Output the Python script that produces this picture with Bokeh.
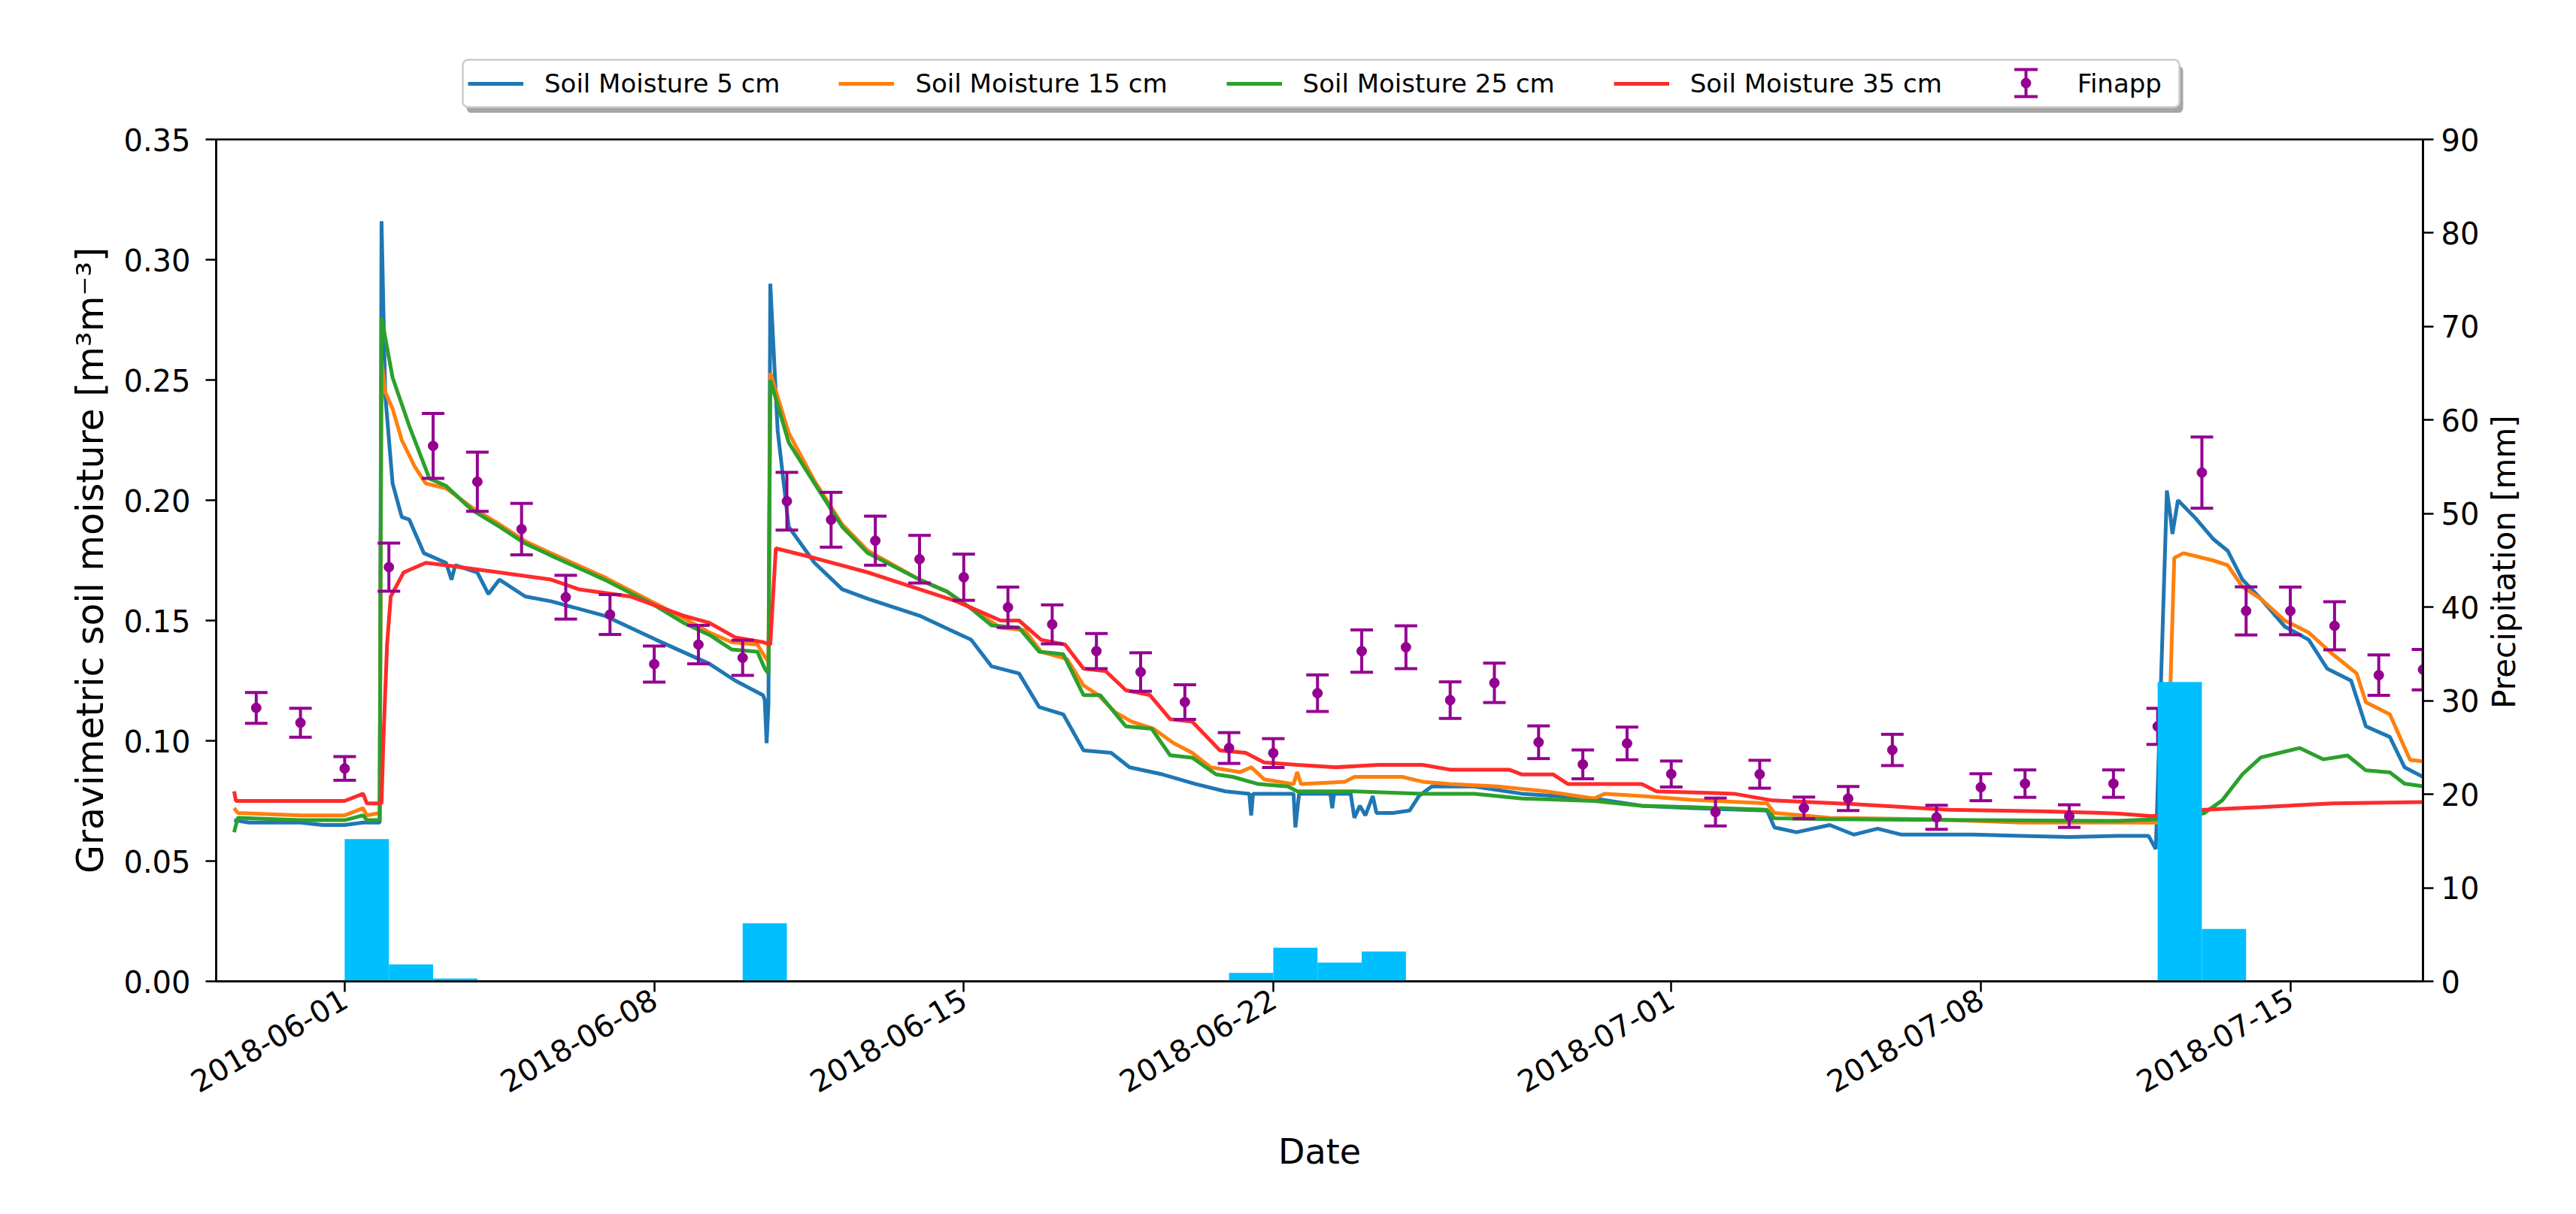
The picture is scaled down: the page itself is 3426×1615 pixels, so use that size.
import numpy as np
import pandas as pd
from math import pi
from bokeh.plotting import figure
from bokeh.layouts import column, row
from bokeh.models import (ColumnDataSource, Range1d, LinearAxis, FixedTicker,
                          DatetimeTickFormatter, PrintfTickFormatter, Legend,
                          LegendItem, Label)
from bokeh.embed import file_html
from bokeh.resources import INLINE

# ---------------- data ----------------
x_start = "2018-05-29 02:15"
x_end = "2018-07-18 00:00"

x_tick_dates = ["2018-06-01", "2018-06-08", "2018-06-15", "2018-06-22",
                "2018-07-01", "2018-07-08", "2018-07-15"]
y_ticks = [0.0, 0.05, 0.10, 0.15, 0.20, 0.25, 0.30, 0.35]
precip_ticks = [0, 10, 20, 30, 40, 50, 60, 70, 80, 90]

t5 = ["2018-05-29 12:00", "2018-05-29 20:00", "2018-05-30 12:00", "2018-05-31 00:00",
      "2018-05-31 12:00", "2018-06-01 00:00", "2018-06-01 10:00", "2018-06-01 19:00",
      "2018-06-01 20:00", "2018-06-01 22:00", "2018-06-02 02:00", "2018-06-02 07:00",
      "2018-06-02 11:00", "2018-06-02 19:00", "2018-06-03 07:00", "2018-06-03 10:00",
      "2018-06-03 12:00", "2018-06-04 00:00", "2018-06-04 06:00", "2018-06-04 12:00",
      "2018-06-05 02:00", "2018-06-05 16:00", "2018-06-06 21:00", "2018-06-08 01:00",
      "2018-06-09 06:00", "2018-06-09 20:00", "2018-06-10 11:00", "2018-06-10 12:00",
      "2018-06-10 13:00", "2018-06-10 14:00", "2018-06-10 15:00", "2018-06-10 19:00",
      "2018-06-11 01:00", "2018-06-11 15:00", "2018-06-12 06:00", "2018-06-12 20:00",
      "2018-06-14 00:00", "2018-06-15 04:00", "2018-06-15 15:00", "2018-06-16 06:00",
      "2018-06-16 17:00", "2018-06-17 06:00", "2018-06-17 17:00", "2018-06-18 08:00",
      "2018-06-18 18:00", "2018-06-19 12:00", "2018-06-20 06:00", "2018-06-20 22:00",
      "2018-06-21 11:00", "2018-06-21 12:00", "2018-06-21 13:00", "2018-06-22 11:00",
      "2018-06-22 12:00", "2018-06-22 14:00", "2018-06-23 07:00", "2018-06-23 08:00",
      "2018-06-23 09:00", "2018-06-23 18:00", "2018-06-23 20:00", "2018-06-23 23:00",
      "2018-06-24 02:00", "2018-06-24 06:00", "2018-06-24 08:00", "2018-06-24 17:00",
      "2018-06-25 02:00", "2018-06-25 07:00", "2018-06-25 14:00", "2018-06-26 13:00",
      "2018-06-27 15:00", "2018-06-29 06:00", "2018-06-30 08:00", "2018-07-01 11:00",
      "2018-07-03 04:00", "2018-07-03 08:00", "2018-07-03 20:00", "2018-07-04 14:00",
      "2018-07-05 03:00", "2018-07-05 16:00", "2018-07-06 05:00", "2018-07-07 20:00",
      "2018-07-08 22:00", "2018-07-10 00:00", "2018-07-11 02:00", "2018-07-11 19:00",
      "2018-07-11 23:00", "2018-07-12 05:00", "2018-07-12 07:00", "2018-07-12 08:00",
      "2018-07-12 11:00", "2018-07-12 20:00", "2018-07-13 06:00", "2018-07-13 14:00",
      "2018-07-13 22:00", "2018-07-14 08:00", "2018-07-14 21:00", "2018-07-15 10:00",
      "2018-07-15 20:00", "2018-07-16 09:00", "2018-07-16 17:00", "2018-07-17 06:00",
      "2018-07-17 14:00", "2018-07-18 00:00"]
v5 = [0.067, 0.066, 0.066, 0.066, 0.065, 0.065, 0.066, 0.066,
      0.316, 0.244, 0.207, 0.193, 0.192, 0.178, 0.174, 0.167,
      0.173, 0.170, 0.161, 0.167, 0.160, 0.158, 0.152, 0.142,
      0.132, 0.125, 0.119, 0.117, 0.099, 0.115, 0.290, 0.229,
      0.189, 0.174, 0.163, 0.159, 0.152, 0.142, 0.131, 0.128,
      0.114, 0.111, 0.096, 0.095, 0.089, 0.086, 0.082, 0.079,
      0.078, 0.069, 0.078, 0.078, 0.064, 0.078, 0.078, 0.072,
      0.078, 0.078, 0.068, 0.073, 0.069, 0.077, 0.070, 0.070,
      0.071, 0.077, 0.081, 0.081, 0.078, 0.076, 0.073, 0.072,
      0.071, 0.064, 0.062, 0.065, 0.061, 0.0635, 0.061, 0.061,
      0.0605, 0.060, 0.0605, 0.0605, 0.055, 0.204, 0.193, 0.186,
      0.200, 0.193, 0.184, 0.179, 0.167, 0.159, 0.1475, 0.142,
      0.130, 0.125, 0.106, 0.1016, 0.089, 0.085]

t15 = ["2018-05-29 12:00", "2018-05-29 14:00", "2018-05-31 00:00", "2018-06-01 00:00",
       "2018-06-01 10:00", "2018-06-01 12:00", "2018-06-01 19:00", "2018-06-01 20:00",
       "2018-06-01 22:00", "2018-06-02 02:00", "2018-06-02 07:00", "2018-06-02 14:00",
       "2018-06-02 20:00", "2018-06-03 07:00", "2018-06-03 21:00", "2018-06-04 12:00",
       "2018-06-05 02:00", "2018-06-05 16:00", "2018-06-06 21:00", "2018-06-08 01:00",
       "2018-06-08 16:00", "2018-06-09 06:00", "2018-06-09 18:00", "2018-06-10 08:00",
       "2018-06-10 12:00", "2018-06-10 14:00", "2018-06-10 15:00", "2018-06-11 01:00",
       "2018-06-11 15:00", "2018-06-12 06:00", "2018-06-12 20:00", "2018-06-14 00:00",
       "2018-06-14 15:00", "2018-06-15 04:00", "2018-06-15 20:00", "2018-06-16 09:00",
       "2018-06-16 18:00", "2018-06-17 08:00", "2018-06-17 17:00", "2018-06-18 01:00",
       "2018-06-18 10:00", "2018-06-18 19:00", "2018-06-19 07:00", "2018-06-19 18:00",
       "2018-06-20 04:00", "2018-06-20 14:00", "2018-06-21 06:00", "2018-06-21 12:00",
       "2018-06-21 19:00", "2018-06-22 11:00", "2018-06-22 13:00", "2018-06-22 15:00",
       "2018-06-23 15:00", "2018-06-23 20:00", "2018-06-24 22:00", "2018-06-25 09:00",
       "2018-06-26 00:00", "2018-06-27 02:00", "2018-06-28 04:00", "2018-06-29 06:00",
       "2018-06-29 12:00", "2018-06-30 08:00", "2018-07-01 11:00", "2018-07-03 04:00",
       "2018-07-03 08:00", "2018-07-04 14:00", "2018-07-06 18:00", "2018-07-08 22:00",
       "2018-07-12 03:00", "2018-07-12 06:00", "2018-07-12 07:00", "2018-07-12 09:00",
       "2018-07-12 14:00", "2018-07-13 06:00", "2018-07-13 14:00", "2018-07-13 22:00",
       "2018-07-14 08:00", "2018-07-14 21:00", "2018-07-15 10:00", "2018-07-15 23:00",
       "2018-07-16 12:00", "2018-07-16 17:00", "2018-07-17 06:00", "2018-07-17 17:00",
       "2018-07-18 00:00"]
v15 = [0.072, 0.070, 0.069, 0.069, 0.072, 0.069, 0.070, 0.258,
       0.245, 0.238, 0.225, 0.214, 0.207, 0.205, 0.197, 0.190,
       0.183, 0.178, 0.168, 0.157, 0.151, 0.145, 0.141, 0.140,
       0.135, 0.133, 0.253, 0.228, 0.208, 0.190, 0.179, 0.167,
       0.162, 0.155, 0.147, 0.146, 0.137, 0.134, 0.123, 0.119,
       0.112, 0.108, 0.105, 0.099, 0.095, 0.089, 0.087, 0.089,
       0.084, 0.082, 0.087, 0.082, 0.083, 0.085, 0.085, 0.083,
       0.082, 0.081, 0.079, 0.076, 0.078, 0.077, 0.0755, 0.074,
       0.070, 0.068, 0.0674, 0.066, 0.066, 0.068, 0.125, 0.176,
       0.178, 0.175, 0.173, 0.164, 0.159, 0.150, 0.145, 0.136,
       0.128, 0.116, 0.111, 0.092, 0.0915]

t25 = ["2018-05-29 12:00", "2018-05-29 14:00", "2018-05-31 00:00", "2018-06-01 00:00",
       "2018-06-01 10:00", "2018-06-01 12:00", "2018-06-01 19:00", "2018-06-01 20:00",
       "2018-06-02 02:00", "2018-06-02 11:00", "2018-06-02 22:00", "2018-06-03 07:00",
       "2018-06-03 21:00", "2018-06-04 12:00", "2018-06-05 02:00", "2018-06-05 16:00",
       "2018-06-06 21:00", "2018-06-08 01:00", "2018-06-08 16:00", "2018-06-09 06:00",
       "2018-06-09 18:00", "2018-06-10 08:00", "2018-06-10 12:00", "2018-06-10 14:00",
       "2018-06-10 15:00", "2018-06-11 01:00", "2018-06-11 15:00", "2018-06-12 06:00",
       "2018-06-12 20:00", "2018-06-14 00:00", "2018-06-14 15:00", "2018-06-15 04:00",
       "2018-06-15 15:00", "2018-06-16 06:00", "2018-06-16 17:00", "2018-06-17 06:00",
       "2018-06-17 17:00", "2018-06-18 02:00", "2018-06-18 16:00", "2018-06-19 06:00",
       "2018-06-19 16:00", "2018-06-20 04:00", "2018-06-20 17:00", "2018-06-21 02:00",
       "2018-06-21 16:00", "2018-06-22 08:00", "2018-06-22 13:00", "2018-06-23 20:00",
       "2018-06-25 09:00", "2018-06-26 13:00", "2018-06-27 15:00", "2018-06-29 06:00",
       "2018-06-30 08:00", "2018-07-01 11:00", "2018-07-03 04:00", "2018-07-03 08:00",
       "2018-07-04 14:00", "2018-07-11 02:00", "2018-07-12 00:00", "2018-07-13 01:00",
       "2018-07-13 11:00", "2018-07-13 22:00", "2018-07-14 08:00", "2018-07-15 05:00",
       "2018-07-15 18:00", "2018-07-16 07:00", "2018-07-16 17:00", "2018-07-17 06:00",
       "2018-07-17 14:00", "2018-07-18 00:00"]
v25 = [0.062, 0.068, 0.067, 0.067, 0.069, 0.067, 0.067, 0.276,
       0.251, 0.231, 0.209, 0.206, 0.196, 0.189, 0.182, 0.177,
       0.167, 0.156, 0.149, 0.144, 0.138, 0.137, 0.130, 0.128,
       0.250, 0.224, 0.207, 0.189, 0.178, 0.167, 0.162, 0.155,
       0.148, 0.147, 0.137, 0.136, 0.119, 0.119, 0.106, 0.105,
       0.094, 0.093, 0.086, 0.085, 0.082, 0.081, 0.079, 0.079,
       0.078, 0.078, 0.076, 0.075, 0.073, 0.0724, 0.0713, 0.0678,
       0.0674, 0.0667, 0.0674, 0.0698, 0.0752, 0.0861, 0.0931, 0.0970,
       0.0923, 0.0939, 0.0877, 0.0869, 0.0822, 0.0811]

t35 = ["2018-05-29 12:00", "2018-05-29 13:00", "2018-05-31 00:00", "2018-06-01 00:00",
       "2018-06-01 10:00", "2018-06-01 12:00", "2018-06-01 20:00", "2018-06-01 21:00",
       "2018-06-01 23:00", "2018-06-02 01:00", "2018-06-02 08:00", "2018-06-02 20:00",
       "2018-06-03 07:00", "2018-06-04 12:00", "2018-06-05 16:00", "2018-06-06 07:00",
       "2018-06-07 11:00", "2018-06-08 16:00", "2018-06-09 06:00", "2018-06-09 20:00",
       "2018-06-10 11:00", "2018-06-10 15:00", "2018-06-10 18:00", "2018-06-11 15:00",
       "2018-06-12 20:00", "2018-06-14 00:00", "2018-06-14 20:00", "2018-06-15 20:00",
       "2018-06-16 06:00", "2018-06-16 18:00", "2018-06-17 07:00", "2018-06-17 17:00",
       "2018-06-18 05:00", "2018-06-18 16:00", "2018-06-19 05:00", "2018-06-19 16:00",
       "2018-06-20 04:00", "2018-06-20 19:00", "2018-06-21 09:00", "2018-06-21 19:00",
       "2018-06-22 13:00", "2018-06-23 10:00", "2018-06-24 09:00", "2018-06-25 09:00",
       "2018-06-26 00:00", "2018-06-27 08:00", "2018-06-27 15:00", "2018-06-28 08:00",
       "2018-06-28 16:00", "2018-06-30 08:00", "2018-06-30 16:00", "2018-07-02 10:00",
       "2018-07-03 07:00", "2018-07-05 03:00", "2018-07-06 07:00", "2018-07-07 07:00",
       "2018-07-09 13:00", "2018-07-11 02:00", "2018-07-11 21:00", "2018-07-13 01:00",
       "2018-07-14 08:00", "2018-07-15 23:00", "2018-07-18 00:00"]
v35 = [0.079, 0.075, 0.075, 0.075, 0.078, 0.074, 0.074, 0.100,
       0.140, 0.160, 0.170, 0.174, 0.173, 0.170, 0.167, 0.163,
       0.160, 0.152, 0.149, 0.143, 0.141, 0.140, 0.180, 0.176,
       0.170, 0.163, 0.158, 0.150, 0.150, 0.142, 0.140, 0.130,
       0.129, 0.121, 0.119, 0.109, 0.108, 0.096, 0.095, 0.091,
       0.090, 0.089, 0.090, 0.090, 0.088, 0.088, 0.086, 0.086,
       0.082, 0.082, 0.079, 0.078, 0.0752, 0.0737, 0.0724, 0.0713,
       0.0706, 0.0698, 0.0687, 0.0713, 0.0724, 0.0740, 0.0745]

fin_dates = pd.date_range("2018-05-30", "2018-07-18", freq="D")
fin_vals = [0.1137, 0.1075, 0.0885, 0.1722, 0.2226, 0.2077, 0.1880, 0.1597, 0.1525, 0.1319,
            0.1400, 0.1345, 0.1996, 0.1919, 0.1832, 0.1755, 0.1680, 0.1555, 0.1484, 0.1373,
            0.1286, 0.1161, 0.0970, 0.0949, 0.1198, 0.1373, 0.1389, 0.1169, 0.1241, 0.0994,
            0.0902, 0.0989, 0.0862, 0.0704, 0.0861, 0.0721, 0.0760, 0.0962, 0.0682, 0.0807,
            0.0822, 0.0687, 0.0822, 0.1060, 0.2115, 0.1540, 0.1540, 0.1478, 0.1273, 0.1296]
fin_err = [0.0064, 0.0060, 0.0049, 0.0100, 0.0135, 0.0123, 0.0107, 0.0091, 0.0083, 0.0075,
           0.0080, 0.0073, 0.0120, 0.0114, 0.0102, 0.0099, 0.0096, 0.0084, 0.0081, 0.0073,
           0.0080, 0.0072, 0.0064, 0.0060, 0.0076, 0.0088, 0.0089, 0.0076, 0.0082, 0.0068,
           0.0060, 0.0068, 0.0054, 0.0058, 0.0058, 0.0045, 0.0050, 0.0065, 0.0050, 0.0056,
           0.0057, 0.0047, 0.0057, 0.0075, 0.0148, 0.0100, 0.0099, 0.0100, 0.0084, 0.0084]

precip_dates = ["2018-06-01", "2018-06-02", "2018-06-03", "2018-06-10", "2018-06-21",
                "2018-06-22", "2018-06-23", "2018-06-24", "2018-07-12", "2018-07-13"]
precip_mm = [15.2, 1.8, 0.3, 6.2, 0.9, 3.6, 2.0, 3.2, 32.0, 5.6]

series_labels = ["Soil Moisture 5 cm", "Soil Moisture 15 cm",
                 "Soil Moisture 25 cm", "Soil Moisture 35 cm", "Finapp"]

# ---------------- styling ----------------
FONT = "DejaVu Sans"
COLORS = ["#1f77b4", "#ff7f0e", "#2ca02c", "#ff2b2b"]
MAG = "#940090"
BAR = "#00bfff"
LW = 5
TOTAL_W = 3410
LEG_H = 150
MAIN_H = 1445
RLAB_W = 108
# legend strip layout (strip coordinates are pixels, y up)
BOX_L, BOX_R, BOX_B, BOX_T = 615, 2898, 8, 71
LEG_X, LEG_Y = 613, 10
ICON_X, ICON_Y, ICON_HALF = 2694, 40, 18

series = [(t5, v5), (t15, v15), (t25, v25), (t35, v35)]
fv = np.array(fin_vals)
fe = np.array(fin_err)
fsrc = ColumnDataSource(dict(x=fin_dates, y=fv, lo=fv - fe, hi=fv + fe))

# ---------------- main plot ----------------
p = figure(width=TOTAL_W - RLAB_W, height=MAIN_H, x_axis_type="datetime",
           x_range=Range1d(pd.Timestamp(x_start), pd.Timestamp(x_end)),
           y_range=Range1d(0, 0.35),
           output_backend="svg", toolbar_location=None,
           min_border_left=287, min_border_right=80,
           min_border_top=35, min_border_bottom=290)
p.extra_y_ranges = {"precip": Range1d(0, 90)}
p.grid.visible = False
p.background_fill_color = "white"
p.border_fill_color = "white"
p.outline_line_color = "black"
p.outline_line_width = 2.5
p.outline_line_alpha = 1.0

for (t, v), c in zip(series, COLORS):
    p.line(pd.to_datetime(t), v, line_color=c, line_width=LW)

p.segment(x0="x", y0="lo", x1="x", y1="hi", source=fsrc, line_color=MAG, line_width=4)
p.scatter("x", "lo", source=fsrc, marker="dash", size=30, line_color=MAG, line_width=4)
p.scatter("x", "hi", source=fsrc, marker="dash", size=30, line_color=MAG, line_width=4)
p.scatter("x", "y", source=fsrc, marker="circle", size=13, fill_color=MAG, line_color=MAG)

pd_left = pd.to_datetime(precip_dates)
p.quad(left=pd_left, right=pd_left + pd.Timedelta(days=1), bottom=0, top=precip_mm,
       y_range_name="precip", fill_color=BAR, line_color=None)

def style(ax):
    ax.axis_line_width = 2.5
    ax.axis_line_color = "black"
    ax.major_tick_line_width = 2.5
    ax.major_tick_line_color = "black"
    ax.major_tick_out = 14
    ax.major_tick_in = 0
    ax.minor_tick_line_color = None
    ax.major_label_text_font = FONT
    ax.major_label_text_font_size = "40px"
    ax.major_label_text_color = "black"
    ax.axis_label_text_font = FONT
    ax.axis_label_text_font_size = "46px"
    ax.axis_label_text_font_style = "normal"
    ax.axis_label_text_color = "black"

xa = p.xaxis[0]
style(xa)
xa.ticker = FixedTicker(ticks=[pd.Timestamp(d).value // 10**6 for d in x_tick_dates])
fmt = "%Y-%m-%d"
xa.formatter = DatetimeTickFormatter(milliseconds=fmt, seconds=fmt, minsec=fmt, minutes=fmt,
                                     hourmin=fmt, hours=fmt, days=fmt, months=fmt, years=fmt)
xa.major_label_orientation = pi / 6
xa.major_label_standoff = 6
xa.axis_label = "Date"
xa.axis_label_standoff = 34

ya = p.yaxis[0]
style(ya)
ya.ticker = FixedTicker(ticks=y_ticks)
ya.formatter = PrintfTickFormatter(format="%.2f")
ya.major_label_standoff = 20
ya.axis_label = "Gravimetric soil moisture [m³m⁻³]"
ya.axis_label_text_font_size = "49px"
ya.axis_label_standoff = 12

ra = LinearAxis(y_range_name="precip", ticker=FixedTicker(ticks=precip_ticks))
style(ra)
ra.major_label_standoff = 10
p.add_layout(ra, "right")

# ---------------- right label strip (frame is aligned with the main frame) ----------------
rf = figure(width=RLAB_W, height=MAIN_H, x_range=Range1d(0, 1), y_range=Range1d(0, 1),
            output_backend="svg", toolbar_location=None,
            x_axis_location=None, y_axis_location=None,
            min_border_left=0, min_border_right=0, min_border_top=35, min_border_bottom=290)
rf.grid.visible = False
rf.outline_line_color = None
rf.add_layout(Label(x=28, y=558, x_units="screen", y_units="screen",
                    text="Precipitation [mm]", angle=pi / 2, text_align="center",
                    text_baseline="middle", text_font=FONT, text_font_size="42px",
                    text_color="black"))

# ---------------- legend strip (1 data unit = 1 pixel) ----------------
lf = figure(width=TOTAL_W, height=LEG_H, x_range=Range1d(0, TOTAL_W), y_range=Range1d(0, LEG_H),
            output_backend="svg", toolbar_location=None,
            x_axis_location=None, y_axis_location=None,
            min_border_left=0, min_border_right=0, min_border_top=0, min_border_bottom=0)
lf.grid.visible = False
lf.outline_line_color = None

# legend frame: shadow, then white box with light grey edge
sh = lf.quad(left=[BOX_L + 5], right=[BOX_R + 5], bottom=[BOX_B - 8], top=[BOX_T - 8],
             fill_color="black", fill_alpha=0.35, line_color=None)
bx = lf.quad(left=[BOX_L], right=[BOX_R], bottom=[BOX_B], top=[BOX_T],
             fill_color="white", line_color="#cccccc", line_width=2.5)
for r in (sh, bx):
    if "border_radius" in r.glyph.properties():
        r.glyph.border_radius = 7

# error-bar legend key
key = ColumnDataSource(dict(x=[ICON_X], y=[ICON_Y], lo=[ICON_Y - ICON_HALF],
                            hi=[ICON_Y + ICON_HALF]))
lf.segment(x0="x", y0="lo", x1="x", y1="hi", source=key, line_color=MAG, line_width=4)
lf.scatter("x", "lo", source=key, marker="dash", size=31, line_color=MAG, line_width=4)
lf.scatter("x", "hi", source=key, marker="dash", size=31, line_color=MAG, line_width=4)
lf.scatter("x", "y", source=key, marker="circle", size=13, fill_color=MAG, line_color=MAG)

# legend glyphs share the real data; they fall outside this strip's ranges
items = []
for (t, v), c, lab in zip(series, COLORS, series_labels):
    r = lf.line(pd.to_datetime(t), v, line_color=c, line_width=LW)
    items.append(LegendItem(label=lab, renderers=[r]))
fin_key = lf.scatter("x", "y", source=fsrc, marker="circle", size=13,
                     fill_alpha=0, line_alpha=0)
items.append(LegendItem(label=series_labels[4], renderers=[fin_key], index=0))

lg = Legend(items=items, orientation="horizontal", location=(LEG_X, LEG_Y),
            label_text_font=FONT, label_text_font_size="34px", label_text_color="black",
            glyph_width=74, glyph_height=30, label_standoff=28,
            spacing=78, padding=9, margin=0,
            background_fill_alpha=0.0, border_line_alpha=0.0)
lf.add_layout(lg, "center")

layout = column(lf, row(p, rf))
open("out.html", "w").write(file_html(layout, INLINE))
